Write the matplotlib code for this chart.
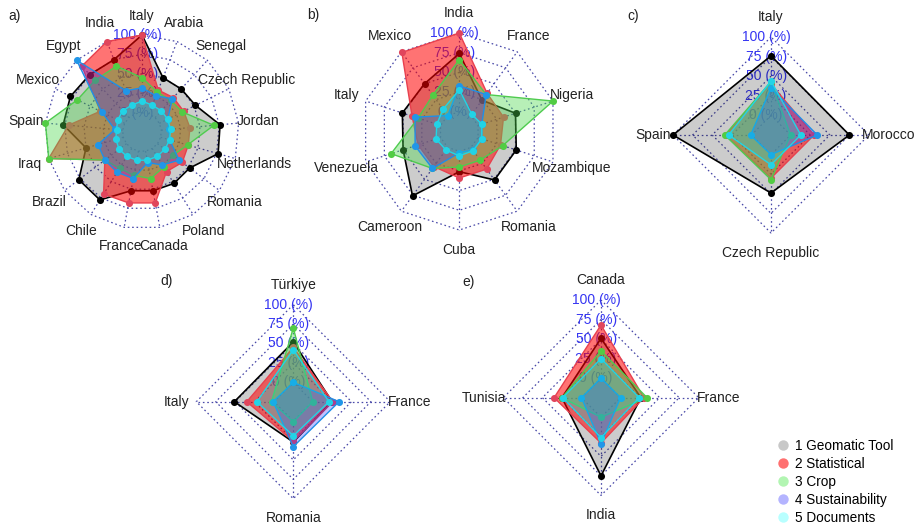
import numpy as np
import matplotlib.pyplot as plt
from matplotlib.lines import Line2D

plt.rcParams['font.family'] = ['Liberation Sans', 'DejaVu Sans']

series_names = ['1 Geomatic Tool', '2 Statistical', '3 Crop', '4 Sustainability', '5 Documents']
ring_labels = ['0 (%)', '25 (%)', '50 (%)', '75 (%)', '100 (%)']

# a) countries run counter-clockwise from the top
a_countries = ['Italy', 'India', 'Egypt', 'Mexico', 'Spain', 'Iraq', 'Brazil', 'Chile', 'France',
               'Canada', 'Poland', 'Romania', 'Netherlands', 'Jordan', 'Czech Republic', 'Senegal', 'Arabia']
a_geomatic = [100, 75, 75, 78, 77, 50, 77, 78, 52, 52, 53, 52, 77, 76, 52, 50, 50]
a_statistical = [100, 100, 90, 35, 70, 100, 35, 69, 68, 68, 35, 40, 37, 37, 35, 35, 33]
a_crop = [45, 66, 65, 68, 100, 100, 35, 30, 32, 36, 28, 25, 36, 68, 33, 30, 30]
a_sustain = [32, 32, 100, 33, 10, 34, 35, 36, 36, 15, 25, 35, 12, 10, 12, 33, 25]
a_documents = [15, 12, 12, 10, 8, 10, 12, 12, 12, 12, 12, 12, 12, 12, 12, 12, 12]

# b)
b_countries = ['India', 'Mexico', 'Italy', 'Venezuela', 'Cameroon', 'Cuba', 'Romania', 'Mozambique',
               'Nigeria', 'France']
b_geomatic = [74, 50, 51, 50, 76, 26, 51, 51, 50, 24]
b_statistical = [100, 99, 38, 30, 30, 34, 34, 30, 34, 35]
b_crop = [66, 32, 30, 66, 33, 20, 20, 33, 100, 33]
b_sustain = [33, 0, 34, 34, 33, 2, 4, 5, 5, 33]
b_documents = [28, 10, 5, 6, 4, 6, 5, 5, 5, 2]

# c)
c_countries = ['Italy', 'Spain', 'Czech Republic', 'Morocco']
c_geomatic = [76, 100, 49, 75]
c_statistical = [40, 33, 30, 30]
c_crop = [43, 34, 32, 0]
c_sustain = [35, 1, 0, 34]
c_documents = [44, 29, 13, 13]

# d)
d_countries = ['Türkiye', 'Italy', 'Romania', 'France']
d_geomatic = [52, 51, 27, 25]
d_statistical = [45, 35, 26, 26]
d_crop = [70, 3, 1, 0]
d_sustain = [0, 1, 33, 34]
d_documents = [42, 22, 19, 21]

# e)
e_countries = ['Canada', 'Tunisia', 'India', 'France']
e_geomatic = [51, 25, 75, 26]
e_statistical = [68, 35, 33, 30]
e_crop = [35, 25, 0, 34]
e_sustain = [0, 0, 34, 0]
e_documents = [25, 24, 26, 24]

line_cols = ['#000000', '#E8404E', '#4FCB4F', '#1E8FE8', '#20D6E6']
fill_cols = ['#000000', '#FF0000', '#4DD94D', '#3333FF', '#00E5E5']
fill_alpha = [0.2, 0.55, 0.4, 0.3, 0.3]
point_cols = ['#000000', '#E0455C', '#52CC44', '#2196E8', '#22D3E6']
legend_cols = ['#C8C8C8', '#FF7070', '#B2F5B2', '#B4B4FF', '#B8FFFF']
grid_col = '#4848A8'

W, H = 919, 526
fig = plt.figure(figsize=(W / 100, H / 100), dpi=100)


def radar(cx, cy, R, tag, countries, series):
    s = 1.45
    ax = fig.add_axes([(cx - s * R) / W, 1 - (cy + s * R) / H, 2 * s * R / W, 2 * s * R / H])
    ax.set_xlim(-s, s)
    ax.set_ylim(-s, s)
    ax.axis('off')
    n = len(countries)
    theta = np.deg2rad(90 + np.arange(n) * 360 / n)
    ct, st = np.cos(theta), np.sin(theta)
    # web
    for k in range(5):
        rr = (k + 1) / 5
        ax.plot(np.append(rr * ct, rr * ct[0]), np.append(rr * st, rr * st[0]),
                color=grid_col, lw=0.9, ls=(0, (1.3, 2.2)), zorder=1)
    for c, sn in zip(ct, st):
        ax.plot([0.2 * c, c], [0.2 * sn, sn], color=grid_col, lw=0.9, ls=(0, (1.3, 2.2)), zorder=1)
    for k, lab in enumerate(ring_labels):
        ax.text(-0.05, (k + 1) / 5, lab, color='#3535F2', ha='center', va='center',
                fontsize=10, zorder=1.5)
    # one filled polygon per category
    for i, vals in enumerate(series):
        r = 0.2 + 0.8 * np.asarray(vals, dtype=float) / 100
        x, y = r * ct, r * st
        ax.fill(x, y, color=fill_cols[i], alpha=fill_alpha[i], lw=0, zorder=2 + i)
        ax.plot(np.append(x, x[0]), np.append(y, y[0]), color=line_cols[i],
                lw=1.2 if i == 0 else 1.0, zorder=2 + i + 0.1)
        ax.scatter(x, y, s=26, color=point_cols[i], lw=0, zorder=2 + i + 0.2)
    for c, sn, name in zip(ct, st, countries):
        ax.text(1.2 * c, 1.2 * sn, name, ha='center', va='center', fontsize=10, color='#222222')
    fig.text(tag[1] / W, 1 - tag[2] / H, tag[0], ha='center', va='center', fontsize=10, color='#222222')


radar(142, 132, 97, ('a)', 15, 16), a_countries,
      [a_geomatic, a_statistical, a_crop, a_sustain, a_documents])
radar(459.3, 131.5, 98.5, ('b)', 313, 15), b_countries,
      [b_geomatic, b_statistical, b_crop, b_sustain, b_documents])
radar(771, 135, 98, ('c)', 633, 16), c_countries,
      [c_geomatic, c_statistical, c_crop, c_sustain, c_documents])
radar(293.3, 401.7, 97, ('d)', 167, 281), d_countries,
      [d_geomatic, d_statistical, d_crop, d_sustain, d_documents])
radar(601, 397.7, 97.7, ('e)', 469, 282), e_countries,
      [e_geomatic, e_statistical, e_crop, e_sustain, e_documents])

handles = [Line2D([], [], ls='none', marker='o', markersize=7.5, markerfacecolor=c, markeredgewidth=0)
           for c in legend_cols]
fig.legend(handles, series_names, loc='upper left', bbox_to_anchor=(768 / W, 1 - 432 / H),
           frameon=False, fontsize=9.8, handletextpad=0.3, labelspacing=0.3,
           borderpad=0, handlelength=1.2)

fig.savefig('out.png', dpi=100)
